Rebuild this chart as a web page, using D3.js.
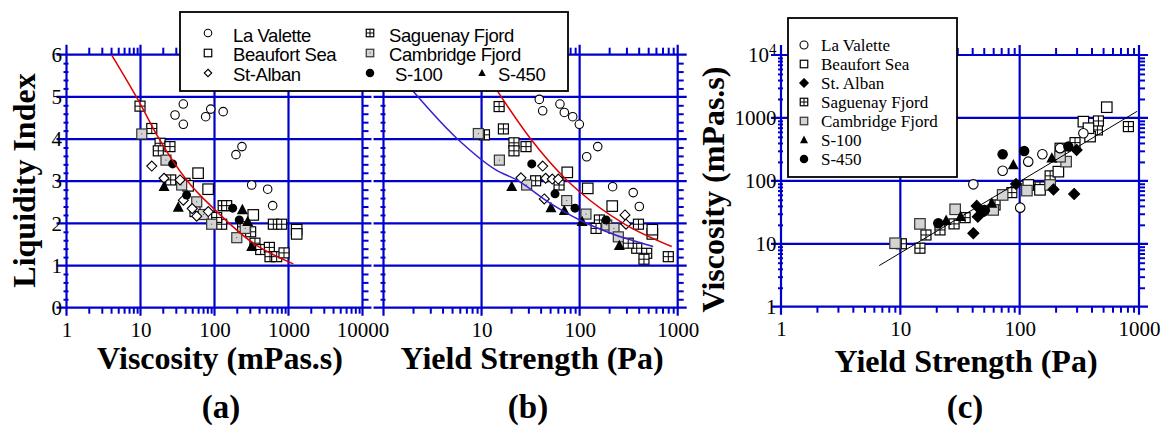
<!DOCTYPE html>
<html>
<head>
<meta charset="utf-8">
<script src="https://cdn.jsdelivr.net/npm/d3@7"></script>
<style>
  body { margin: 0; background: #fff; }
  text { font-family: "Liberation Serif", "Times New Roman", serif; }
</style>
</head>
<body>
<svg id="fig" width="1163" height="426"></svg>
<script>
// ---------- tick values ----------
const xTicksA = [1, 10, 100, 1000, 10000];
const yTicksAB = [0, 1, 2, 3, 4, 5, 6];
const xTicksB = [1, 10, 100, 1000];
const xLabelsB = [10, 100, 1000];
const xTicksC = [1, 10, 100, 1000];
const yTicksC = [1, 10, 100, 1000, 10000];

// ---------- (a) viscosity (mPas.s) vs liquidity index ----------
const laValetteA = [[29.3,4.57],[37.9,4.83],[37.9,4.35],[76,4.53],[88.9,4.71],[131,4.65],[195,3.63],[235,3.82],[318,2.91],[523,2.81],[611,2.42]];
const beaufortA = [[60,3.19],[82,2.81],[334,2.20],[1290,1.85],[1290,1.75],[44,2.89]];
const stAlbanA = [[14.2,3.36],[20.8,3.07],[34.2,3.03],[37.9,2.55],[57.5,2.17],[82.5,2.28],[50,2.35]];
const saguenayA = [[9.85,4.78],[14.2,4.25],[18.4,3.90],[17.4,3.72],[25,3.82],[25.6,3.03],[54.5,2.28],[125,1.98],[131,2.42],[146,2.42],[240,1.92],[308,1.80],[352,1.53],[421,1.38],[551,1.43],[562,1.21],[692,1.21],[869,1.30],[624,1.98],[809,1.98],[107,2.14],[40,2.95]];
const cambridgeA = [[10.4,4.12],[22.1,3.50],[36,2.91],[57.5,2.51],[70.6,2.21],[91.6,1.98],[200,1.66],[260,1.88]];
const s100A = [[27.2,3.41],[42,2.67],[176,2.36],[216,2.08]];
const s450A = [[20.8,2.87],[32.4,2.38],[238,2.32],[281,2.04],[318,1.45]];
const fitA = [[4.08,5.99],[9.6,4.88],[16.6,4.10],[42,3.03],[101.6,2.32],[334,1.53],[1161,1.04]];

// ---------- (b) yield strength (Pa) vs liquidity index ----------
const laValetteB = [[38.8,4.94],[42,4.67],[63,4.83],[69.8,4.63],[85,4.53],[99.3,4.35],[153,3.82],[118,3.58],[217,2.87],[352,2.73],[406,2.40]];
const beaufortB = [[74.8,3.21],[121,2.83],[215,2.41],[551,1.75],[551,1.85]];
const stAlbanB = [[42,3.36],[25.2,3.08],[45,3.07],[52.6,3.05],[60.6,3.05],[43.6,2.58],[290,2.20],[297,1.98]];
const saguenayB = [[15.1,4.77],[16.7,4.24],[21.4,3.91],[21.4,3.72],[28.4,3.82],[10.7,4.10],[35.6,3.01],[61.7,2.91],[159,2.08],[147,1.88],[398,1.98],[382,1.41],[483,1.29],[453,1.15],[802,1.21],[313,1.53]];
const cambridgeB = [[9.27,4.13],[15.2,3.50],[28.8,2.91],[73.8,2.54],[116,2.22],[189,1.96],[224,1.88],[248,1.68]];
const s100B = [[32.5,3.41],[56.1,2.70],[89.7,2.36],[186,2.08]];
const s450B = [[20.3,2.87],[51,2.37],[69.8,2.30],[106,2.04],[254,1.47]];
const fitRedB = [[13.5,5.25],[31.3,4.02],[73.8,3.03],[100,2.75],[279,2.00],[869,1.45]];
const fitBlueB = [[1.6,5.4],[5.58,4.02],[14,3.27],[22.8,3.03],[49.9,2.48],[100,2.08],[189,1.80],[563,1.45]];

// ---------- (c) yield strength (Pa) vs viscosity (mPas.s) ----------
const laValetteC = [[40.9,88],[72,145],[118,202],[155,265],[101,37.5],[342,571],[218,331]];
const beaufortC = [[342,873],[118,86],[148,72],[537,1480],[389,505],[211,140],[377,686]];
const stAlbanC = [[40.9,14.7],[43.7,40],[44.6,27],[50.3,33.6],[93.3,89],[192,73],[286,62],[300,310]];
const saguenayC = [[14.6,8.5],[16.4,13.8],[21.5,16.6],[28.2,20.7],[34.9,26],[62.2,41.4],[86,65],[180,120],[291,405],[384,584],[448,645],[815,728],[457,895],[218,330],[148,80],[10.2,10]];
const cambridgeC = [[9.03,10.2],[14.6,20.7],[28.8,35.3],[72,59.7],[115,70],[180,86],[245,202],[218,242],[60,34.5]];
const s100C = [[88.5,179],[186,229],[32,27],[58.4,44],[24.2,23.3]];
const s450C = [[72,265],[109,299],[20.8,21.2],[51,34.5],[256,350],[49.6,32.4]];
const fitC = [[6.65,4.5],[966,1277]];

const BLUE = "#0000cc";
const svg = d3.select("#fig");

const xA = d3.scaleLog().domain([1, 10000]).range([66.5, 362.5]);
const yAB = d3.scaleLinear().domain([0, 6]).range([307.7, 54.7]);
const xB = d3.scaleLog().domain([1, 1000]).range([383.5, 677.7]);
const xC = d3.scaleLog().domain([1, 1000]).range([781, 1139]);
const yC = d3.scaleLog().domain([1, 10000]).range([306.7, 55]);

// frame, grid lines and minor ticks of one panel
function frame(x, y, xMajor, yMajor) {
  const g = svg.append("g");
  const [x0, x1] = x.range();
  const [y1, y0] = y.range();
  const xMinor = x.ticks().filter(v => !xMajor.includes(v));
  const yMinor = (y.base ? y.ticks() : y.ticks(30)).filter(v => !yMajor.some(m => Math.abs(m - v) < 1e-9));

  const minor = (axis, tr) => g.append("g").attr("transform", tr)
    .call(axis.tickFormat("").tickSizeOuter(0))
    .call(s => s.select(".domain").remove())
    .call(s => s.selectAll("line").attr("stroke", BLUE).attr("stroke-width", 2));

  minor(d3.axisBottom(x).tickValues(xMinor).tickSize(6), `translate(0,${y1})`);
  minor(d3.axisTop(x).tickValues(xMinor).tickSize(7), `translate(0,${y0})`);
  minor(d3.axisLeft(y).tickValues(yMinor).tickSize(5), `translate(${x0 + 2},0)`);
  minor(d3.axisRight(y).tickValues(yMinor).tickSize(6), `translate(${x1},0)`);

  g.selectAll(null).data(xMajor).join("line")
    .attr("x1", d => x(d)).attr("x2", d => x(d))
    .attr("y1", y0 - 10).attr("y2", y1 + 8)
    .attr("stroke", BLUE).attr("stroke-width", 2.2);
  g.selectAll(null).data(yMajor).join("line")
    .attr("y1", d => y(d)).attr("y2", d => y(d))
    .attr("x1", x0 - 10).attr("x2", x1 + 9)
    .attr("stroke", BLUE).attr("stroke-width", 2.2);
  return g;
}

function xLabels(x, y, vals) {
  svg.append("g").attr("transform", `translate(0,${y.range()[0]})`)
    .call(d3.axisBottom(x).tickValues(vals).tickSize(0).tickPadding(14).tickFormat(d3.format("d")))
    .call(s => s.select(".domain").remove())
    .call(s => s.selectAll("text").attr("font-size", 21).attr("fill", "#000")
      .style("font-family", "'Liberation Serif', serif"));
}
function yLabels(x, y, vals, fmt) {
  return svg.append("g").attr("transform", `translate(${x.range()[0]},0)`)
    .call(d3.axisLeft(y).tickValues(vals).tickSize(0).tickPadding(4.5).tickFormat(fmt))
    .call(s => s.select(".domain").remove())
    .call(s => s.selectAll("text").attr("font-size", 21).attr("fill", "#000")
      .style("font-family", "'Liberation Serif', serif"));
}

// markers
function marker(g, kind, cx, cy, s) {
  const h = s / 2;
  if (kind === "circleOpen") {
    g.append("circle").attr("cx", cx).attr("cy", cy).attr("r", h).attr("fill", "#fff").attr("stroke", "#000").attr("stroke-width", 1.1);
  } else if (kind === "dot") {
    g.append("circle").attr("cx", cx).attr("cy", cy).attr("r", h).attr("fill", "#000");
  } else if (kind === "squareOpen" || kind === "squareGrid" || kind === "squareGray" || kind === "squareGrayDot") {
    const gray = kind.startsWith("squareGray");
    g.append("rect").attr("x", cx - h).attr("y", cy - h).attr("width", s).attr("height", s)
      .attr("fill", gray ? "#d4d4d4" : "#fff").attr("stroke", gray ? "#333" : "#000").attr("stroke-width", 1.2);
    if (kind === "squareGrid")
      g.append("path").attr("d", `M${cx - h},${cy}H${cx + h}M${cx},${cy - h}V${cy + h}`).attr("stroke", "#000").attr("stroke-width", 1);
    if (kind === "squareGrayDot")
      g.append("rect").attr("x", cx - 0.5).attr("y", cy - 0.5).attr("width", 1).attr("height", 1).attr("fill", "#444");
  } else if (kind === "diamondOpen" || kind === "diamond") {
    g.append("path").attr("d", `M${cx},${cy - h}L${cx + h},${cy}L${cx},${cy + h}L${cx - h},${cy}Z`)
      .attr("fill", kind === "diamond" ? "#000" : "#fff").attr("stroke", "#000").attr("stroke-width", 1.1);
  } else if (kind === "triangle") {
    g.append("path").attr("d", `M${cx},${cy - h * 1.1}L${cx + h},${cy + h * 0.8}L${cx - h},${cy + h * 0.8}Z`).attr("fill", "#000");
  }
}
function plotSeries(x, y, data, kind, s) {
  const g = svg.append("g");
  data.forEach(d => marker(g, kind, x(d[0]), y(d[1]), s));
}
function curve(x, y, data, color, w) {
  svg.append("path").datum(data)
    .attr("d", d3.line().x(d => x(d[0])).y(d => y(d[1])).curve(d3.curveMonotoneX))
    .attr("fill", "none").attr("stroke", color).attr("stroke-width", w);
}

// ---------- panel frames ----------
frame(xA, yAB, xTicksA, yTicksAB);
frame(xB, yAB, xTicksB, yTicksAB);
frame(xC, yC, xTicksC, yTicksC);

xLabels(xA, yAB, xTicksA);
xLabels(xB, yAB, xLabelsB);
xLabels(xC, yC, xTicksC);
yLabels(xA, yAB, yTicksAB, d3.format("d"));
yLabels(xC, yC, yTicksC, d3.format("d"))
  .selectAll("text").filter(d => d === 10000)
  .text("10").append("tspan").attr("dy", "-0.55em").attr("font-size", 15).text("4");

// ---------- (a) ----------
plotSeries(xA, yAB, saguenayA, "squareGrid", 10);
plotSeries(xA, yAB, beaufortA, "squareOpen", 10.5);
plotSeries(xA, yAB, cambridgeA, "squareGrayDot", 10);
plotSeries(xA, yAB, laValetteA, "circleOpen", 8.5);
plotSeries(xA, yAB, stAlbanA, "diamondOpen", 10);
plotSeries(xA, yAB, s100A, "dot", 9);
plotSeries(xA, yAB, s450A, "triangle", 11);
curve(xA, yAB, fitA, "#dd0000", 1.5);

// ---------- (b) ----------
plotSeries(xB, yAB, saguenayB, "squareGrid", 10);
plotSeries(xB, yAB, beaufortB, "squareOpen", 10.5);
plotSeries(xB, yAB, cambridgeB, "squareGrayDot", 10);
plotSeries(xB, yAB, laValetteB, "circleOpen", 8.5);
plotSeries(xB, yAB, stAlbanB, "diamondOpen", 10);
plotSeries(xB, yAB, s100B, "dot", 9);
plotSeries(xB, yAB, s450B, "triangle", 11);
curve(xB, yAB, fitRedB, "#dd0000", 1.5);
curve(xB, yAB, fitBlueB, "#3a1fd0", 1.5);

// ---------- (c) ----------
plotSeries(xC, yC, saguenayC, "squareGrid", 10);
plotSeries(xC, yC, beaufortC, "squareOpen", 10.5);
plotSeries(xC, yC, cambridgeC, "squareGray", 10.5);
plotSeries(xC, yC, laValetteC, "circleOpen", 9.5);
plotSeries(xC, yC, stAlbanC, "diamond", 11);
plotSeries(xC, yC, s100C, "triangle", 11);
plotSeries(xC, yC, s450C, "dot", 10.5);
svg.append("path").datum(fitC)
  .attr("d", d3.line().x(d => xC(d[0])).y(d => yC(d[1])))
  .attr("stroke", "#000").attr("stroke-width", 1);

// ---------- legend (a)/(b) ----------
const legAB = svg.append("g");
legAB.append("rect").attr("x", 180).attr("y", 12).attr("width", 388).attr("height", 79)
  .attr("fill", "#fff").attr("stroke", "#000").attr("stroke-width", 1.8);
const legABItems = [
  ["La Valette", "circleOpen", 208, 233, 0],
  ["Beaufort Sea", "squareOpen", 208, 233, 1],
  ["St-Alban", "diamondOpen", 208, 233, 2],
  ["Saguenay Fjord", "squareGrid", 370, 389, 0],
  ["Cambridge Fjord", "squareGrayDot", 370, 389, 1],
  ["S-100", "dot", 370, 395, 2],
  ["S-450", "triangle", 482, 498, 2]
];
legABItems.forEach(([name, kind, sx, tx, row]) => {
  marker(legAB, kind, sx, 33 + row * 20, kind === "dot" ? 8.5 : 7.5);
  legAB.append("text").attr("x", tx).attr("y", 41.7 + row * 19.4)
    .style("font-family", "'Liberation Sans', Arial, sans-serif")
    .attr("font-size", 18.5).attr("letter-spacing", -0.4).text(name);
});

// ---------- legend (c) ----------
const legC = svg.append("g");
legC.append("rect").attr("x", 788).attr("y", 18).attr("width", 169).attr("height", 159)
  .attr("fill", "#fff").attr("stroke", "#000").attr("stroke-width", 1.8);
const legCItems = [
  ["La Valette", "circleOpen", 8],
  ["Beaufort Sea", "squareOpen", 7.5],
  ["St. Alban", "diamond", 8.5],
  ["Saguenay Fjord", "squareGrid", 7.5],
  ["Cambridge Fjord", "squareGray", 7.5],
  ["S-100", "triangle", 8],
  ["S-450", "dot", 8.5]
];
legCItems.forEach(([name, kind, s], i) => {
  marker(legC, kind, 804, 45 + i * 19, s);
  legC.append("text").attr("x", 821).attr("y", 50.6 + i * 19).attr("font-size", 17).text(name);
});

// ---------- titles ----------
const title = (txt, x, y, rot, size) => svg.append("text")
  .attr("transform", `translate(${x},${y})` + (rot ? " rotate(-90)" : ""))
  .attr("text-anchor", "middle").attr("font-weight", "bold").attr("font-size", size || 32).text(txt);
title("Liquidity Index", 35, 180.5, true);
title("Viscosity (mPas.s)", 220, 369);
title("Yield Strength (Pa)", 532, 369);
title("Yield Strength (Pa)", 966, 371.5);
title("Viscosity (mPas.s)", 724, 189.5, true);
title("(a)", 221, 418, false, 33);
title("(b)", 528, 418, false, 33);
title("(c)", 965, 418, false, 33);
</script>
</body>
</html>
